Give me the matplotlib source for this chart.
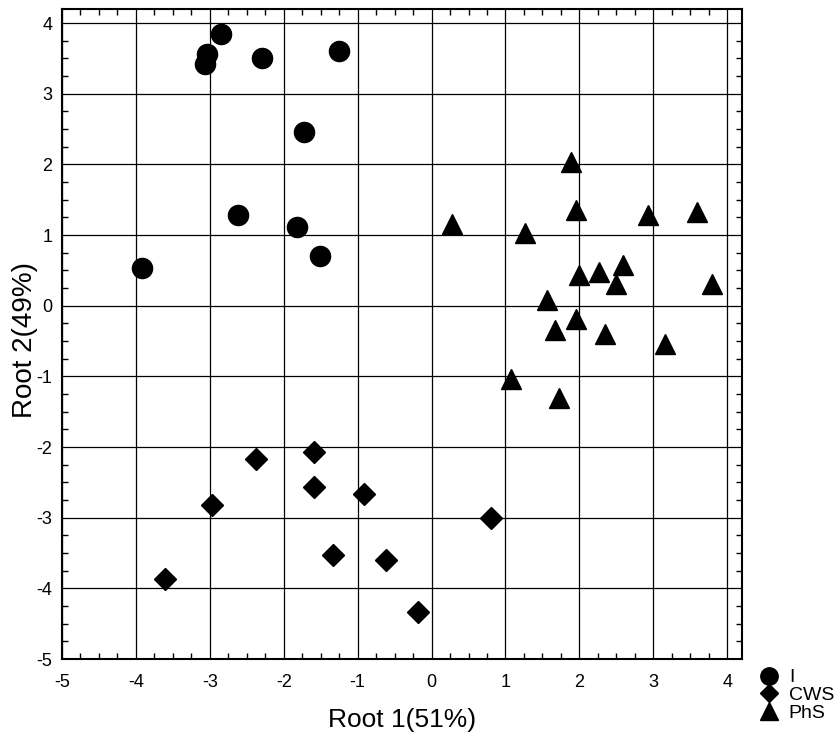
import numpy as np
import matplotlib
matplotlib.use('Agg')
import matplotlib.pyplot as plt
from matplotlib.ticker import MultipleLocator
from matplotlib.lines import Line2D

plt.rcParams['font.family'] = ['Liberation Sans', 'DejaVu Sans']
plt.rcParams['axes.unicode_minus'] = False

# group I
i_x = [-3.92, -3.07, -3.04, -2.85, -2.29, -1.25, -1.73, -2.62, -1.82, -1.51]
i_y = [0.53, 3.42, 3.56, 3.85, 3.50, 3.60, 2.46, 1.29, 1.11, 0.71]

# group CWS
cws_x = [-2.38, -1.59, -2.97, -1.59, -0.92, 0.80, -1.34, -0.61, -3.60, -0.18]
cws_y = [-2.17, -2.07, -2.82, -2.56, -2.66, -3.00, -3.53, -3.60, -3.87, -4.33]

# group PhS
phs_x = [1.89, 1.96, 0.28, 1.26, 2.93, 3.59, 2.59, 2.26, 1.99, 2.49,
         3.80, 1.56, 1.96, 1.67, 2.35, 3.16, 1.07, 1.73]
phs_y = [2.04, 1.35, 1.15, 1.03, 1.28, 1.33, 0.58, 0.48, 0.44, 0.31,
         0.31, 0.08, -0.19, -0.34, -0.40, -0.54, -1.04, -1.31]

labels = ['I', 'CWS', 'PhS']

fig = plt.figure(figsize=(8.35, 7.33), dpi=100)
ax = fig.add_axes([62/835, 1 - 659/733, 680/835, 650/733])

ax.plot(i_x, i_y, 'o', color='black', ms=14.5, zorder=3)
ax.plot(cws_x, cws_y, 'D', color='black', ms=11.5, zorder=3)
ax.plot(phs_x, phs_y, '^', color='black', ms=14, zorder=3)

ax.set_xlim(-5, 4.2)
ax.set_ylim(-5, 4.2)
ax.xaxis.set_major_locator(MultipleLocator(1))
ax.yaxis.set_major_locator(MultipleLocator(1))
ax.xaxis.set_minor_locator(MultipleLocator(0.25))
ax.yaxis.set_minor_locator(MultipleLocator(0.25))
ax.grid(True, which='major', color='black', lw=0.9)
ax.tick_params(which='major', length=0, labelsize=13)
ax.tick_params(axis='x', which='major', pad=11)
ax.tick_params(axis='y', which='major', pad=7)
ax.tick_params(which='minor', direction='in', length=4, width=1,
               top=True, right=True)
for s in ax.spines.values():
    s.set_linewidth(1.5)

ax.set_xlabel('Root 1(51%)', fontsize=19)
ax.set_ylabel('Root 2(49%)', fontsize=20)
ax.xaxis.set_label_coords(0.5, -0.075)
ax.yaxis.set_label_coords(-0.036, 0.49)

handles = [Line2D([], [], ls='', marker='o', color='black', ms=12.5),
           Line2D([], [], ls='', marker='D', color='black', ms=9),
           Line2D([], [], ls='', marker='^', color='black', ms=12.5)]
fig.legend(handles, labels, loc='upper left', bbox_to_anchor=(748/835, 1 - 659/733),
           frameon=False, fontsize=14, handletextpad=0.4, labelspacing=0.0,
           borderpad=0, handlelength=1.2)

fig.savefig('out.png', dpi=100)
